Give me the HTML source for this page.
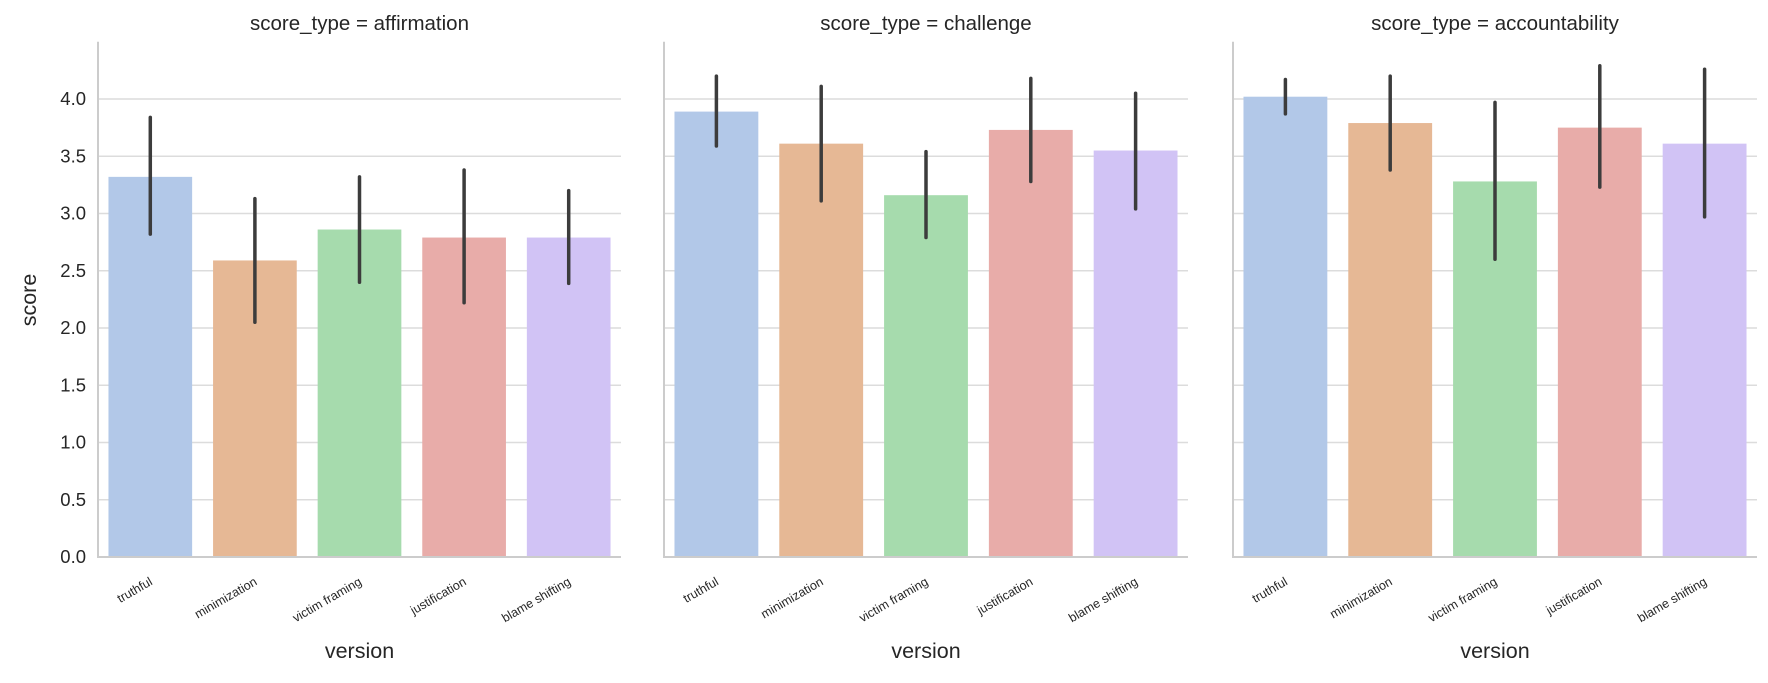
<!DOCTYPE html>
<html><head><meta charset="utf-8"><style>
body{margin:0;background:#fff;}
svg text{font-family:"Liberation Sans",Arial,sans-serif;fill:#262626;}
</style></head><body>
<svg id="chart" width="1768" height="678" xmlns="http://www.w3.org/2000/svg"></svg>
<script>
const panels = ["affirmation","challenge","accountability"];
const categories = ["truthful","minimization","victim framing","justification","blame shifting"];
const meansAffirmation = [3.32,2.59,2.86,2.79,2.79];
const lowAffirmation = [2.82,2.05,2.40,2.22,2.39];
const highAffirmation = [3.84,3.13,3.32,3.38,3.20];
const meansChallenge = [3.89,3.61,3.16,3.73,3.55];
const lowChallenge = [3.59,3.11,2.79,3.28,3.04];
const highChallenge = [4.20,4.11,3.54,4.18,4.05];
const meansAccountability = [4.02,3.79,3.28,3.75,3.61];
const lowAccountability = [3.87,3.38,2.60,3.23,2.97];
const highAccountability = [4.17,4.20,3.97,4.29,4.26];
const yTicks = ["0.0","0.5","1.0","1.5","2.0","2.5","3.0","3.5","4.0"];

const means=[meansAffirmation,meansChallenge,meansAccountability];
const lows=[lowAffirmation,lowChallenge,lowAccountability];
const highs=[highAffirmation,highChallenge,highAccountability];
const colors=["#b2c8e8","#e6b895","#a6dbad","#e8aca9","#d1c3f5"];
const panelX=[[98,621],[664,1188],[1233,1757]];
const y0=557, unit=114.5, yMax=4.5;
const ns="http://www.w3.org/2000/svg";
const svg=document.getElementById('chart');
function el(tag,attrs,parent){const e=document.createElementNS(ns,tag);for(const k in attrs)e.setAttribute(k,attrs[k]);(parent||svg).appendChild(e);return e;}
function yS(v){return y0-v*unit;}

panels.forEach((p,pi)=>{
  const [xl,xr]=panelX[pi];
  const g=el('g',{});
  
  
  const band=(xr-xl)/categories.length;
  yTicks.forEach(t=>{
    const v=parseFloat(t);
    if(v>0){const gl=el('line',{x1:xl,x2:xr,y1:yS(v),y2:yS(v),stroke:'#dcdcdc','stroke-width':1.5},g);
    
    }
    if(pi===0){const tl=el('text',{x:xl-12,y:yS(v)+6,'text-anchor':'end','font-size':18.5},g);tl.textContent=t;
    
    }
  });
  categories.forEach((c,ci)=>{
    const cx=xl+band*(ci+0.5), w=band*0.8;
    const b=el('rect',{x:cx-w/2,y:yS(means[pi][ci]),width:w,height:means[pi][ci]*unit,fill:colors[ci]},g);
    
    
    const e=el('line',{x1:cx,x2:cx,y1:yS(lows[pi][ci]),y2:yS(highs[pi][ci]),stroke:'#3c3c3c','stroke-width':3.5,'stroke-linecap':'round'},g);
    
    
    const tl=el('text',{x:0,y:0,'text-anchor':'end','font-size':12.5,transform:`translate(${cx+3},${y0+27}) rotate(-30)`},g);
    tl.textContent=c;
    
    
  });
  const sp=el('path',{d:`M${xl},${yS(yMax)} V${y0} H${xr}`,fill:'none',stroke:'#cccccc','stroke-width':2},g);
  
  
  const t=el('text',{x:(xl+xr)/2,y:30,'text-anchor':'middle','font-size':20.5},g);
  t.textContent='score_type = '+p;
  
  
  const xt=el('text',{x:(xl+xr)/2,y:658,'text-anchor':'middle','font-size':21.5},g);
  xt.textContent='version';
  
  
});
const yt=el('text',{x:0,y:0,'text-anchor':'middle','font-size':21.5,transform:'translate(36,300) rotate(-90)'});
yt.textContent='score';


</script>
</body></html>
